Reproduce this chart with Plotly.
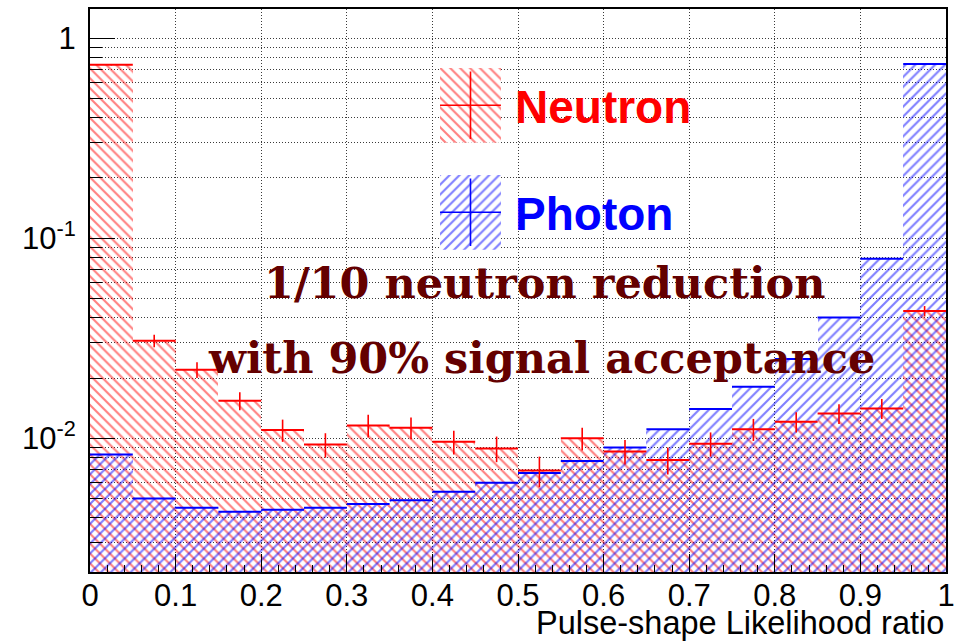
import plotly.graph_objects as go

# Histogram binning: 20 bins of width 0.05 on the likelihood ratio
bin_width = 0.05
bin_centers = [0.025 + 0.05 * i for i in range(20)]

# Normalised neutron histogram and its statistical errors
neutron = [0.735, 0.0307, 0.0220, 0.0154, 0.0110, 0.0093, 0.0116, 0.0113, 0.0096, 0.0089,
           0.0069, 0.0100, 0.0086, 0.0078, 0.0094, 0.0111, 0.0121, 0.0133, 0.0141, 0.0432]
neutron_err = [0.006, 0.0022, 0.0020, 0.0016, 0.0014, 0.0013, 0.0015, 0.0014, 0.0013, 0.0013,
               0.0012, 0.0013, 0.0012, 0.0012, 0.0013, 0.0014, 0.0014, 0.0015, 0.0016, 0.0026]

# Normalised photon histogram
photon = [0.0083, 0.0050, 0.0045, 0.0043, 0.0044, 0.0045, 0.0047, 0.0049, 0.0054, 0.0060,
          0.0067, 0.0077, 0.0090, 0.0111, 0.0140, 0.0181, 0.0249, 0.0401, 0.0788, 0.741]

RED = "#ff0000"
BLUE = "#0000ff"
CLEAR = "rgba(0,0,0,0)"


def hatched_bar(x, y, shape, color, xaxis="x", yaxis="y", width=bin_width):
    return go.Bar(
        x=x, y=y, width=width, xaxis=xaxis, yaxis=yaxis,
        marker=dict(
            color=CLEAR,
            line=dict(width=0),
            pattern=dict(shape=shape, fgcolor=color, bgcolor=CLEAR,
                         size=7, solidity=0.3, fillmode="overlay"),
        ),
        showlegend=False, hoverinfo="skip",
    )


def cross(x, y, color, err_y=None, half_w=bin_width / 2, xaxis="x", yaxis="y", thick=2):
    kw = {}
    if err_y is not None:
        kw["error_y"] = dict(type="data", array=err_y, visible=True,
                             color=color, thickness=1.6, width=0)
    return go.Scatter(
        x=x, y=y, mode="markers", xaxis=xaxis, yaxis=yaxis,
        marker=dict(size=1, color=color, opacity=0),
        error_x=dict(type="constant", value=half_w, visible=True,
                     color=color, thickness=thick, width=0),
        showlegend=False, hoverinfo="skip", **kw,
    )


fig = go.Figure()
fig.add_trace(hatched_bar(bin_centers, neutron, "\\", RED))
fig.add_trace(hatched_bar(bin_centers, photon, "/", BLUE))
fig.add_trace(cross(bin_centers, photon, BLUE))
fig.add_trace(cross(bin_centers, neutron, RED, err_y=neutron_err))

# Legend boxes drawn on small inset axes so they carry the same hatching
fig.add_trace(hatched_bar([0.5], [1], "\\", RED, "x2", "y2", width=1))
fig.add_trace(cross([0.5], [0.5], RED, err_y=[0.45], half_w=0.5, xaxis="x2", yaxis="y2", thick=1.6))
fig.add_trace(hatched_bar([0.5], [1], "/", BLUE, "x3", "y3", width=1))
fig.add_trace(cross([0.5], [0.5], BLUE, err_y=[0.45], half_w=0.5, xaxis="x3", yaxis="y3", thick=1.6))

major_y = [1, 0.1, 0.01]
major_y_text = ["1", "10<sup>-1</sup>", "10<sup>-2</sup>"]
minor_y = [m * 10 ** e for e in (-3, -2, -1) for m in range(2, 10)]

tick_font = dict(family="Liberation Sans, Arial, sans-serif", size=31, color="black")
grid_style = dict(gridcolor="#3a3a3a", griddash="1px,2px", gridwidth=1)

inset = dict(range=[0, 1], visible=False, fixedrange=True, automargin=False)

fig.update_layout(
    width=957, height=643,
    margin=dict(l=90, r=11, t=9, b=71, autoexpand=False),
    paper_bgcolor="white", plot_bgcolor="white",
    barmode="overlay", bargap=0,
    showlegend=False,
    xaxis=dict(
        range=[0, 1], dtick=0.1, tick0=0, automargin=False,
        ticks="inside", ticklen=18, tickwidth=1, tickcolor="black",
        tickfont=tick_font, ticklabelstandoff=-5,
        showline=True, linecolor="black", linewidth=2, mirror=True,
        showgrid=True, **grid_style, zeroline=False,
        minor=dict(dtick=0.02, tick0=0, ticks="inside", ticklen=7, tickcolor="black", showgrid=False),
    ),
    yaxis=dict(
        type="log", range=[-2.668, 0.145], automargin=False,
        tickmode="array", tickvals=major_y, ticktext=major_y_text,
        ticks="inside", ticklen=25, tickwidth=1, tickcolor="black",
        tickfont=tick_font, ticklabelstandoff=6,
        showline=True, linecolor="black", linewidth=2, mirror=True,
        showgrid=True, **grid_style, zeroline=False,
        minor=dict(tickmode="array", tickvals=minor_y, ticks="inside", ticklen=12,
                   tickcolor="black", showgrid=True, **grid_style),
    ),
    xaxis2=dict(domain=[0.4089, 0.4801], anchor="y2", **inset),
    yaxis2=dict(domain=[0.7624, 0.8957], anchor="x2", **inset),
    xaxis3=dict(domain=[0.4089, 0.4801], anchor="y3", **inset),
    yaxis3=dict(domain=[0.5722, 0.7055], anchor="x3", **inset),
)

legend_font = dict(family="Liberation Sans, Arial, sans-serif", size=46)
note_font = dict(family="DejaVu Serif, serif", size=43, color="#640000")

fig.add_annotation(x=0.4945, y=0.8255, xref="paper", yref="paper", xanchor="left", yanchor="middle",
                   text="<b>Neutron</b>", showarrow=False, font=dict(color=RED, **legend_font))
fig.add_annotation(x=0.4945, y=0.6362, xref="paper", yref="paper", xanchor="left", yanchor="middle",
                   text="<b>Photon</b>", showarrow=False, font=dict(color=BLUE, **legend_font))
fig.add_annotation(x=0.5315, y=0.5136, xref="paper", yref="paper", xanchor="center", yanchor="middle",
                   text="<b>1/10 neutron reduction</b>", showarrow=False, font=note_font)
fig.add_annotation(x=0.528, y=0.3803, xref="paper", yref="paper", xanchor="center", yanchor="middle",
                   text="<b>with 90% signal acceptance</b>", showarrow=False, font=note_font)
fig.add_annotation(x=1.0, y=-0.0905, xref="paper", yref="paper", xanchor="right", yanchor="middle",
                   text="Pulse-shape Likelihood ratio", showarrow=False,
                   font=dict(family="Liberation Sans, Arial, sans-serif", size=32.5, color="black"))

fig.write_html("out.html")
